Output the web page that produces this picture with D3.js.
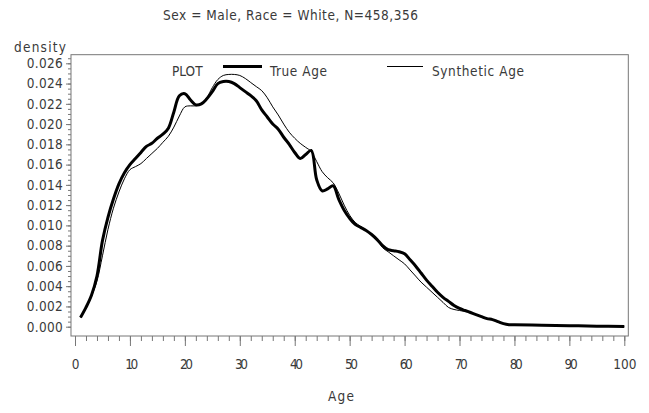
<!DOCTYPE html>
<html>
<head>
<meta charset="utf-8">
<script src="https://cdn.jsdelivr.net/npm/d3@7"></script>
<style>
  body { margin: 0; background: #fff; }
  text { font-family: "DejaVu Sans Condensed", "DejaVu Sans", sans-serif; font-stretch: condensed; fill: #3a3a3a; font-size: 13.5px; }
</style>
</head>
<body>
<script>
// ages in years
var ages = [1,2,3,4,5,6,7,8,9,10,11,12,13,14,15,16,17,18,19,20,
            21,22,23,24,25,26,27,28,29,30,31,32,33,34,35,36,37,38,39,40,
            41,42,43,44,45,46,47,48,49,50,51,52,53,54,55,56,57,58,59,60,
            61,62,63,64,65,66,67,68,69,70,71,72,73,74,75,76,77,78,79,80,
            85,90,95,100];
var trueAge = [0.0009,0.0019,0.0031,0.0050,0.0085,0.0108,0.0126,0.0141,0.0152,0.0160,
               0.0166,0.0172,0.0178,0.0181,0.0186,0.0190,0.0196,0.0212,0.0228,0.0230,
               0.0224,0.0219,0.0220,0.0225,0.0232,0.0240,0.0242,0.0242,0.0240,0.0236,
               0.0232,0.0228,0.0223,0.0214,0.0207,0.0200,0.0195,0.0187,0.0180,0.0172,
               0.0166,0.0170,0.0174,0.0145,0.0134,0.0136,0.0139,0.0126,0.0115,0.0107,
               0.0101,0.0098,0.0095,0.0091,0.0086,0.0080,0.0076,0.0075,0.0074,0.0072,
               0.0066,0.0060,0.0053,0.0046,0.0040,0.0034,0.0029,0.0025,0.0021,0.0018,
               0.0016,0.0014,0.0012,0.0010,0.0008,0.0007,0.0005,0.0003,0.0002,0.0002,
               0.00015,0.0001,0.00005,0.00003];
var synthAge = [0.0009,0.0018,0.0030,0.0045,0.0070,0.0096,0.0117,0.0133,0.0146,0.0155,
                0.0158,0.0161,0.0166,0.0171,0.0176,0.0182,0.0188,0.0197,0.0208,0.0217,
                0.0218,0.0218,0.0220,0.0226,0.0236,0.0244,0.0248,0.0249,0.0249,0.0248,
                0.0245,0.0241,0.0237,0.0233,0.0226,0.0217,0.0209,0.0200,0.0192,0.0186,
                0.0181,0.0177,0.0173,0.0163,0.0153,0.0147,0.0142,0.0132,0.0120,0.0110,
                0.0103,0.0099,0.0095,0.0091,0.0086,0.0078,0.0074,0.0070,0.0066,0.0062,
                0.0056,0.0050,0.0044,0.0039,0.0034,0.0029,0.0024,0.0019,0.0017,0.0016,
                0.0015,0.0014,0.0012,0.0010,0.0008,0.0007,0.0005,0.0003,0.0002,0.0002,
                0.00015,0.0001,0.00005,0.00003];
var xTicks = [0,10,20,30,40,50,60,70,80,90,100];
var yTicks = [0,0.002,0.004,0.006,0.008,0.010,0.012,0.014,0.016,0.018,0.020,0.022,0.024,0.026];

var width = 649, height = 413;
var svg = d3.select('body').append('svg')
            .attr('width', width)
            .attr('height', height);

var xScale = d3.scaleLinear().domain([0, 100]).range([75, 624.3]);
var yScale = d3.scaleLinear().domain([0, 0.026]).range([326.7, 63.3]);

var frameLeft = xScale(-0.73), frameRight = xScale(100.73);
var frameTop = yScale(0.02685), frameBottom = 336;

// fit a text to the width it has in the picture
var fit = function(sel, w){
  sel.each(function(){
    var n = this.getNumberOfChars();
    var len = this.getComputedTextLength();
    d3.select(this).attr('letter-spacing', ((w - len) / Math.max(n - 1, 1)) + 'px');
  });
  return sel;
};

// frame
svg.append('rect')
   .attr('x', frameLeft).attr('y', frameTop)
   .attr('width', frameRight - frameLeft).attr('height', frameBottom - frameTop)
   .attr('fill', 'none').attr('stroke', '#777').attr('stroke-width', 1);

// x axis
var xAxis = d3.axisBottom(xScale).tickValues(xTicks).tickSize(10).tickFormat(d3.format('d'));
var xMinor = d3.axisBottom(xScale).tickValues(d3.range(0, 101, 2)).tickSize(5).tickFormat('');
svg.append('g').attr('transform', 'translate(0,' + frameBottom + ')').call(xMinor)
   .call(function(g){ g.select('.domain').remove(); });
var gx = svg.append('g').attr('transform', 'translate(0,' + frameBottom + ')').call(xAxis);
gx.select('.domain').remove();
gx.selectAll('text').attr('y', 23).attr('font-size', null).attr('font-family', null);
fit(gx.selectAll('text').filter(function(d){ return d >= 10 && d < 100; }), 13);

// y axis
var yAxis = d3.axisLeft(yScale).tickValues(yTicks).tickSize(5).tickFormat(d3.format('.3f'));
var yMinor = d3.axisLeft(yScale).tickValues(d3.range(0, 0.02651, 0.0005)).tickSize(3).tickFormat('');
svg.append('g').attr('transform', 'translate(' + frameLeft + ',0)').call(yMinor)
   .call(function(g){ g.select('.domain').remove(); });
var gy = svg.append('g').attr('transform', 'translate(' + frameLeft + ',0)').call(yAxis);
gy.select('.domain').remove();
gy.selectAll('text').attr('x', -8).attr('font-size', null).attr('font-family', null);
fit(gy.selectAll('text'), 36);
svg.selectAll('.tick line').attr('stroke', '#777');

// lines
var line = function(vals){
  return d3.line()
           .x(function(d, i){ return xScale(ages[i]); })
           .y(function(d){ return yScale(d); })
           .curve(d3.curveCatmullRom.alpha(0.5))(vals);
};
svg.append('path').attr('d', line(synthAge))
   .attr('fill', 'none').attr('stroke', '#000').attr('stroke-width', 1);
svg.append('path').attr('d', line(trueAge))
   .attr('fill', 'none').attr('stroke', '#000').attr('stroke-width', 3);

// legend
var legend = svg.append('g');
legend.append('text').attr('x', 172).attr('y', 76).text('PLOT');
legend.append('line').attr('x1', 223).attr('x2', 262).attr('y1', 66.5).attr('y2', 66.5)
      .attr('stroke', '#000').attr('stroke-width', 3);
fit(legend.append('text').attr('x', 270).attr('y', 76).text('True Age'), 57);
legend.append('line').attr('x1', 387).attr('x2', 423).attr('y1', 66.5).attr('y2', 66.5)
      .attr('stroke', '#000').attr('stroke-width', 1);
fit(legend.append('text').attr('x', 432).attr('y', 76).text('Synthetic Age'), 92);

// titles
fit(svg.append('text').attr('x', 163).attr('y', 20).text('Sex = Male, Race = White, N=458,356'), 255);
fit(svg.append('text').attr('x', 14).attr('y', 52).text('density'), 52);
fit(svg.append('text').attr('x', 328).attr('y', 401).text('Age'), 26);
</script>
</body>
</html>
